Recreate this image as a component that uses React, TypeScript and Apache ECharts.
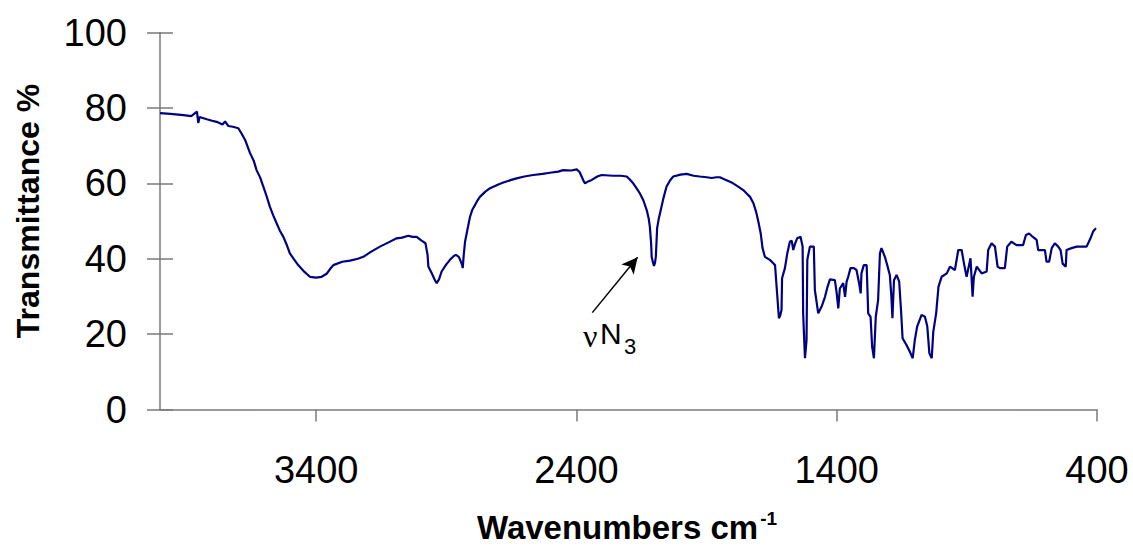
import React, { useEffect, useRef } from "react";
import * as echarts from "echarts";

const wavenumbers: number[] = [
  4000, 3960, 3910, 3880, 3858, 3853, 3848, 3820, 3800, 3782, 3760, 3750, 3738, 3720, 3699, 3685, 3673, 3654, 3640, 3629,
  3615, 3603, 3590, 3578, 3565, 3552, 3540, 3526, 3512, 3501, 3485, 3469, 3445, 3424, 3400, 3379, 3360, 3345, 3334, 3300,
  3270, 3240, 3219, 3190, 3155, 3120, 3091, 3070, 3046, 3030, 3014, 2995, 2980, 2972, 2969, 2955, 2945, 2937, 2928, 2918,
  2900, 2886, 2870, 2863, 2852, 2847, 2840, 2837, 2833, 2828, 2818, 2809, 2800, 2790, 2780, 2771, 2750, 2732, 2700, 2681,
  2650, 2630, 2600, 2566, 2530, 2502, 2470, 2451, 2420, 2399, 2388, 2380, 2372, 2367, 2355, 2341, 2320, 2303, 2260, 2230,
  2207, 2195, 2182, 2170, 2156, 2143, 2130, 2122, 2118, 2113, 2111, 2106, 2102, 2098, 2095, 2092, 2090, 2084, 2079, 2066,
  2054, 2040, 2028, 2000, 1977, 1950, 1926, 1900, 1880, 1862, 1849, 1830, 1810, 1798, 1780, 1759, 1746, 1733, 1720, 1710,
  1701, 1692, 1685, 1676, 1657, 1637, 1631, 1622, 1617, 1612, 1610, 1599, 1590, 1580, 1573, 1567, 1560, 1552, 1539, 1531,
  1529, 1522, 1516, 1513, 1503, 1488, 1484, 1471, 1458, 1445, 1435, 1426, 1407, 1400, 1394, 1388, 1375, 1368, 1362, 1356,
  1347, 1334, 1324, 1314, 1308, 1305, 1296, 1285, 1279, 1270, 1264, 1257, 1250, 1241, 1234, 1228, 1215, 1206, 1196, 1190,
  1186, 1180, 1170, 1160, 1153, 1147, 1132, 1119, 1108, 1100, 1091, 1074, 1061, 1052, 1044, 1035, 1029, 1018, 1009, 997,
  977, 965, 946, 933, 920, 911, 901, 886, 878, 873, 862, 843, 824, 818, 805, 792, 782, 773, 754, 745,
  729, 709, 684, 673, 661, 645, 632, 626, 600, 594, 584, 574, 562, 549, 540, 532, 520, 517, 498, 478,
  440, 425, 415, 404,
];

const transmittance: number[] = [
  78.6, 78.4, 78.1, 77.8, 79.0, 76.0, 77.6, 77.0, 76.6, 76.3, 75.6, 76.4, 75.2, 75.0, 74.6, 73.0, 71.5, 68.0, 66.0, 63.5,
  61.5, 59.1, 56.5, 53.8, 51.5, 49.4, 47.5, 45.8, 43.5, 41.4, 39.8, 38.3, 36.5, 35.2, 35.0, 35.2, 36.0, 37.4, 38.3, 39.2,
  39.5, 40.0, 40.5, 41.8, 43.2, 44.4, 45.4, 45.6, 46.1, 45.8, 45.8, 44.8, 44.1, 41.0, 37.9, 36.0, 34.5, 33.5, 34.5, 36.6,
  38.5, 39.7, 40.8, 41.0, 40.5, 39.7, 38.5, 37.5, 41.0, 44.5, 48.0, 51.1, 53.0, 54.2, 55.5, 56.4, 57.8, 58.7, 59.7, 60.2,
  60.9, 61.3, 61.8, 62.2, 62.5, 62.8, 63.1, 63.5, 63.4, 63.7, 63.0, 61.8, 60.5, 60.0, 60.5, 60.9, 61.8, 62.2, 62.0, 62.0,
  61.8, 61.0, 60.0, 58.8, 57.3, 55.5, 52.9, 50.5, 48.5, 44.0, 40.5, 39.0, 38.1, 39.0, 40.5, 45.0, 48.1, 50.5, 52.0, 56.0,
  59.1, 60.8, 61.8, 62.3, 62.5, 62.0, 61.8, 61.6, 61.4, 61.6, 61.6, 61.0, 60.4, 60.0, 59.2, 58.2, 57.3, 56.4, 54.7, 52.5,
  49.8, 46.7, 42.8, 40.5, 39.7, 38.3, 32.6, 24.2, 25.0, 26.4, 34.8, 37.5, 41.4, 44.5, 44.8, 42.3, 44.0, 45.4, 45.8, 43.2,
  25.5, 13.6, 18.4, 39.7, 43.2, 43.2, 31.7, 25.5, 27.3, 29.9, 32.6, 34.5, 34.3, 30.8, 26.8, 32.1, 33.5, 29.9, 33.9, 35.2,
  37.5, 37.5, 37.0, 33.5, 30.8, 36.1, 38.3, 38.3, 25.5, 24.6, 16.7, 13.6, 24.6, 29.0, 41.4, 42.8, 40.5, 38.3, 35.7, 29.9,
  24.2, 34.3, 35.7, 33.9, 26.4, 18.9, 17.1, 15.3, 13.6, 18.4, 22.0, 25.1, 24.6, 22.0, 14.9, 13.6, 20.6, 25.5, 32.6, 35.2,
  36.1, 37.9, 37.0, 42.3, 42.3, 38.7, 35.2, 40.1, 29.9, 35.2, 37.9, 36.1, 36.6, 42.3, 44.1, 43.2, 37.9, 37.5, 37.5, 43.2,
  44.5, 43.6, 43.6, 46.3, 46.7, 45.7, 45.0, 42.3, 42.3, 39.2, 39.2, 42.8, 44.1, 43.2, 42.3, 38.7, 37.9, 42.3, 42.8, 43.2,
  43.2, 45.4, 47.2, 48.1,
];

const xTickValues: number[] = [3400, 2400, 1400, 400];
const yTickLabels: number[] = [0, 20, 40, 60, 80, 100];

const arrowStart: [number, number] = [2339, 25.7];
const arrowEnd: [number, number] = [2165, 40.4];

export default function App() {
  const ref = useRef<HTMLDivElement>(null);

  useEffect(() => {
    if (!ref.current) return;
    const chart = echarts.init(ref.current, undefined, { renderer: "svg" });
    const axisColor = "#7a7a7a";
    const font = "Liberation Sans, Arial, sans-serif";
    const serif = "Liberation Serif, Times New Roman, serif";
    const data = wavenumbers.map((w, i) => [w, transmittance[i]]);

    chart.setOption({
      animation: false,
      backgroundColor: "#ffffff",
      grid: { left: 160, right: 36, top: 32.5, bottom: 139.5, containLabel: false },
      xAxis: {
        type: "value",
        min: 400,
        max: 4000,
        inverse: true,
        splitLine: { show: false },
        axisLine: { show: true, lineStyle: { color: axisColor, width: 1.5 } },
        axisTick: { show: true, customValues: xTickValues, length: 12, inside: false, lineStyle: { color: axisColor, width: 1.5 } },
        axisLabel: {
          customValues: xTickValues,
          fontSize: 38,
          fontFamily: font,
          color: "#000",
          margin: 41,
          formatter: (v: number) => String(v),
        },
      },
      yAxis: [
        {
          type: "value",
          min: 0,
          max: 100,
          interval: 20,
          splitLine: { show: false },
          axisLine: { show: true, lineStyle: { color: axisColor, width: 1.5 } },
          axisTick: { show: true, length: 13, inside: false, lineStyle: { color: axisColor, width: 1.5 } },
          axisLabel: {
            fontSize: 38,
            fontFamily: font,
            color: "#000",
            margin: 33,
            formatter: (v: number) => (yTickLabels.includes(v) ? String(v) : ""),
          },
        },
        {
          type: "value",
          min: 0,
          max: 100,
          interval: 20,
          position: "left",
          splitLine: { show: false },
          axisLine: { show: false },
          axisTick: { show: true, length: 13, inside: true, lineStyle: { color: axisColor, width: 1.5 } },
          axisLabel: { show: false },
        },
      ],
      series: [
        {
          type: "line",
          data,
          showSymbol: false,
          symbol: "none",
          lineStyle: { color: "#000080", width: 2.2 },
          markLine: {
            silent: true,
            symbol: ["none", "arrow"],
            symbolSize: [12, 16],
            lineStyle: { color: "#000", width: 1.5, type: "solid" },
            label: { show: false },
            data: [[{ coord: arrowStart }, { coord: arrowEnd }]],
          },
        },
      ],
      graphic: [
        {
          type: "text",
          x: 28,
          y: 211,
          rotation: Math.PI / 2,
          style: {
            text: "Transmittance %",
            fontSize: 32,
            fontWeight: "bold",
            fontFamily: font,
            fill: "#000",
            textAlign: "center",
            textVerticalAlign: "middle",
          },
        },
        {
          type: "text",
          x: 627,
          y: 527,
          style: {
            text: "{a|Wavenumbers cm}{s|-1}",
            textAlign: "center",
            textVerticalAlign: "middle",
            rich: {
              a: { fontSize: 33, fontWeight: "bold", fontFamily: font, fill: "#000", lineHeight: 36 },
              s: { fontSize: 19, fontWeight: "bold", fontFamily: font, fill: "#000", verticalAlign: "top", lineHeight: 36, padding: [0, 0, 0, 2] },
            },
          },
        },
        {
          type: "text",
          x: 583,
          y: 336,
          style: { text: "ν", fontSize: 32, fontFamily: serif, fill: "#000", textAlign: "left", textVerticalAlign: "middle" },
        },
        {
          type: "text",
          x: 600,
          y: 333,
          style: { text: "N", fontSize: 30, fontFamily: font, fill: "#000", textAlign: "left", textVerticalAlign: "middle" },
        },
        {
          type: "text",
          x: 624,
          y: 346,
          style: { text: "3", fontSize: 22, fontFamily: font, fill: "#000", textAlign: "left", textVerticalAlign: "middle" },
        },
      ],
    });

    return () => chart.dispose();
  }, []);

  return (
    <div
      ref={ref}
      style={{ position: "fixed", left: 0, top: 0, width: 1133, height: 549, background: "#fff" }}
    />
  );
}
